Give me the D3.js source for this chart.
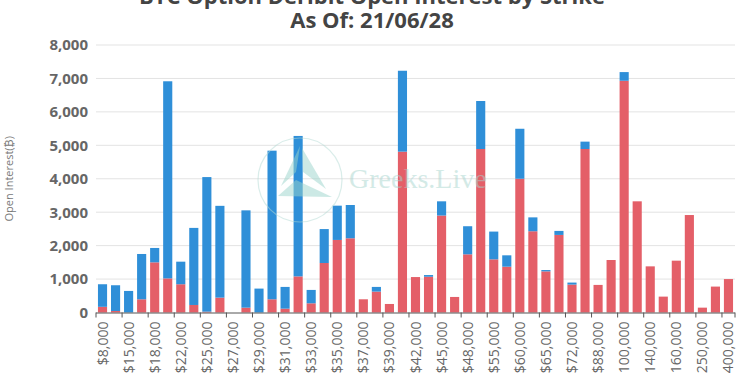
<!DOCTYPE html>
<html>
<head>
<meta charset="utf-8">
<script src="https://cdn.jsdelivr.net/npm/d3@7/dist/d3.min.js"></script>
<style>
  html, body { margin: 0; padding: 0; background: #fff; }
  svg { display: block; }
</style>
</head>
<body>
<svg id="chart" width="743" height="374"></svg>
<script>
const strikes = [8000,10000,15000,16000,18000,20000,22000,24000,25000,26000,
  27000,28000,29000,30000,31000,32000,33000,34000,35000,36000,
  37000,38000,39000,40000,42000,44000,45000,46000,48000,50000,
  55000,58000,60000,64000,65000,70000,72000,80000,88000,96000,
  100000,120000,140000,150000,160000,200000,250000,300000,400000];

const putOI = [170,45,0,395,1500,1020,845,225,25,445,
  0,145,0,395,115,1080,275,1480,2170,2220,
  395,625,255,4810,1060,1070,2900,465,1740,4890,
  1590,1370,4000,2430,1230,2320,835,4890,825,1570,
  6930,3325,1380,475,1550,2915,145,775,1000];

const callOI = [675,770,645,1355,430,5895,675,2305,4025,2745,
  0,2910,715,4445,650,4200,400,1015,1025,995,
  0,140,0,2420,0,50,425,0,840,1435,
  830,340,1495,415,40,120,60,220,0,0,
  260,0,0,0,0,0,0,0,0];

const yTicks = [0,1000,2000,3000,4000,5000,6000,7000,8000];
const titleLines = ["BTC Option Deribit Open Interest by Strike", "As Of: 21/06/28"];
const yTitle = "Open Interest(\u20BF)";

const svg = d3.select("#chart");
const margin = {left: 96, right: 8, top: 45, bottom: 61.5};
const W = 743, H = 374;

const x = d3.scaleBand()
  .domain(strikes.map(String))
  .range([margin.left, W - margin.right])
  .paddingInner(0.3)
  .paddingOuter(0.15);

const y = d3.scaleLinear().domain([0, 8000]).range([H - margin.bottom, margin.top]);

const fmtK = d3.format(",");

// gridlines
svg.append("g")
  .selectAll("line")
  .data(yTicks.filter(d => d > 0))
  .join("line")
  .attr("x1", margin.left).attr("x2", W - margin.right)
  .attr("y1", d => y(d)).attr("y2", d => y(d))
  .attr("stroke", "#e3e3e3").attr("stroke-width", 1);

// stacked bars
const series = d3.stack().keys(["put", "call"])(
  strikes.map((s, i) => ({strike: String(s), put: putOI[i], call: callOI[i]})));
const colors = {put: "#e45f68", call: "#2f8fd8"};

svg.append("g").selectAll("g")
  .data(series)
  .join("g")
  .attr("fill", d => colors[d.key])
  .selectAll("rect")
  .data(d => d)
  .join("rect")
  .attr("x", d => x(d.data.strike))
  .attr("width", x.bandwidth())
  .attr("y", d => y(d[1]))
  .attr("height", d => Math.max(0, y(d[0]) - y(d[1])));

// watermark (drawn over the bars, faint)
const wm = svg.append("g").attr("opacity", 0.5);
wm.append("circle").attr("cx", 300).attr("cy", 180).attr("r", 42)
  .attr("fill", "none").attr("stroke", "#b5dcd6").attr("stroke-width", 1.2);
wm.append("path").attr("d", "M300,146 L281,186 L296,172 Z").attr("fill", "#9bd5cc");
wm.append("path").attr("d", "M302,148 L326,189 L303,172 Z").attr("fill", "#9bd5cc");
wm.append("path").attr("d", "M278,196 L296,180 L332,197 Z").attr("fill", "#9bd5cc");
wm.append("text").attr("x", 349).attr("y", 188)
  .attr("font-family", "'Liberation Serif', 'DejaVu Serif', serif")
  .attr("font-size", 28).attr("fill", "#a9d6cf").text("Greeks.Live");

// y axis
const yAxis = svg.append("g")
  .attr("transform", `translate(${margin.left},0)`)
  .call(d3.axisLeft(y).tickValues(yTicks).tickFormat(fmtK).tickSize(0).tickPadding(8));
yAxis.select(".domain").remove();
yAxis.selectAll("text")
  .attr("font-family", "'Open Sans', sans-serif")
  .attr("font-size", 15).attr("font-weight", "bold").attr("fill", "#666");

// x axis line and ticks
const x0 = x.range()[0], step = x.step();
const y0 = y(0);
svg.append("line").attr("x1", x0).attr("x2", W - margin.right)
  .attr("y1", y0 + 0.5).attr("y2", y0 + 0.5).attr("stroke", "#555").attr("stroke-width", 1);
const tickIdx = d3.range(0, strikes.length + 1, 2).concat([strikes.length]);
svg.append("g").selectAll("line")
  .data(tickIdx)
  .join("line")
  .attr("x1", d => x0 + d * step).attr("x2", d => x0 + d * step)
  .attr("y1", y0).attr("y2", y0 + 5)
  .attr("stroke", "#555").attr("stroke-width", 1);

// x labels
svg.append("g").selectAll("text")
  .data(strikes.filter((d, i) => i % 2 === 0))
  .join("text")
  .attr("transform", d => `translate(${x(String(d)) + x.bandwidth() / 2 + 5},${y0 + 9}) rotate(-90)`)
  .attr("text-anchor", "end")
  .attr("font-family", "'Open Sans', sans-serif")
  .attr("font-size", 14).attr("fill", "#666")
  .text(d => "$" + fmtK(d));

// y title
svg.append("text")
  .attr("transform", `translate(13,${(margin.top + y0) / 2}) rotate(-90)`)
  .attr("text-anchor", "middle")
  .attr("font-family", "'Open Sans', sans-serif")
  .attr("font-size", 11).attr("fill", "#777")
  .text(yTitle);

// title
svg.append("g").selectAll("text")
  .data(titleLines)
  .join("text")
  .attr("x", 372)
  .attr("y", (d, i) => 4 + i * 24)
  .attr("text-anchor", "middle")
  .attr("font-family", "'Open Sans', sans-serif")
  .attr("font-size", 22).attr("font-weight", "bold").attr("fill", "#444")
  .text(d => d);
</script>
</body>
</html>
